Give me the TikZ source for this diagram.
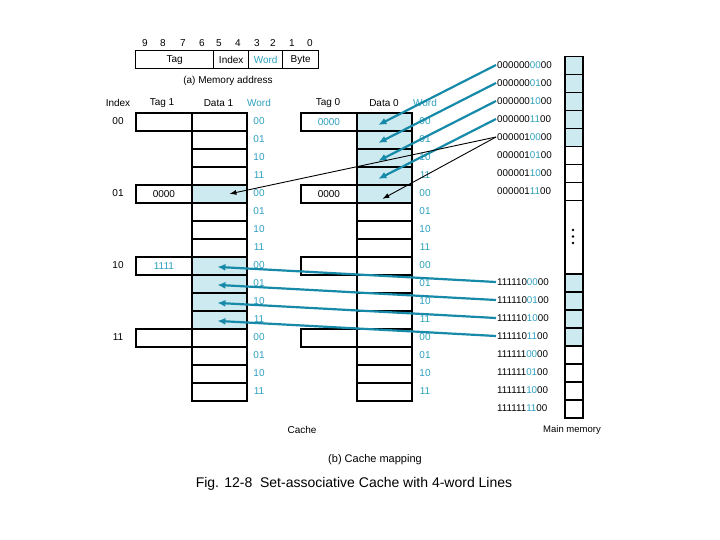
\documentclass[tikz,border=0pt]{standalone}
\usepackage{fontspec}
\setmainfont{Liberation Sans}
\usetikzlibrary{calc,arrows.meta}
\definecolor{tealtxt}{RGB}{45,160,190}
\definecolor{tealarr}{RGB}{22,138,168}
\definecolor{cellshade}{RGB}{205,234,240}
\newcommand{\addrtxt}[3]{#1\textcolor{tealtxt}{#2}#3}
\begin{document}
\begin{tikzpicture}[x=1pt,y=-1pt,font=\fontsize{10}{12}\selectfont,
  cell/.style={draw,line width=1.8pt,minimum width=55pt,minimum height=18pt,inner sep=0pt,anchor=north west},
  shcell/.style={cell,fill=cellshade},
  mcell/.style={draw,line width=1.5pt,minimum width=18pt,minimum height=18pt,inner sep=0pt,anchor=north west},
  abox/.style={draw,line width=1.4pt,minimum height=18pt,inner sep=0pt,anchor=north west},
  addr/.style={anchor=west,inner sep=1pt,font=\fontsize{9.8}{11}\selectfont},
  lbl/.style={inner sep=1pt},
  wl/.style={inner sep=1pt,text=tealtxt},
  tarrow/.style={draw=tealarr,line width=2.2pt,-{Latex[length=8pt,width=7pt]}},
  barrow/.style={draw=black,line width=0.9pt,-{Latex[length=7pt,width=5pt]}}]
\useasboundingbox (0,0) rectangle (720,540);

% (a) memory address
\foreach \b/\x in {9/145,8/163,7/183,6/202,5/219,4/238,3/257,2/273,1/292,0/310}
  \node[lbl] (bit\b) at (\x,43) {\b};
\node[abox,minimum width=78pt] (ftag) at (135,50) {Tag};
\node[abox,minimum width=35pt] (findex) at (213,50) {Index};
\node[abox,minimum width=34pt,text=tealtxt] (fword) at (248,50) {Word};
\node[abox,minimum width=36pt] (fbyte) at (282,50) {Byte};
\node[lbl] (capa) at (228,81) {(a) Memory address};

% headers
\node[lbl] (hindex) at (118,103) {Index};
\node[lbl] (htag1) at (162,103) {Tag 1};
\node[lbl] (hdata1) at (218.5,103) {Data 1};
\node[lbl,text=tealtxt] (hword1) at (259,103) {Word};
\node[lbl] (htag0) at (328,103) {Tag 0};
\node[lbl] (hdata0) at (384,103) {Data 0};
\node[lbl,text=tealtxt] (hword0) at (425,103) {Word};

% data cells
\foreach \k in {0,1,2,3,5,6,7,12,13,14,15}
  \node[cell] (da\k) at (191,{112+18*\k}) {};
\foreach \k in {4,8,9,10,11}
  \node[shcell] (da\k) at (191,{112+18*\k}) {};
\foreach \k in {5,...,15}
  \node[cell] (db\k) at (356,{112+18*\k}) {};
\foreach \k in {0,...,4}
  \node[shcell] (db\k) at (356,{112+18*\k}) {};

% tag cells
\node[cell,minimum width=56pt] (ta0) at (135,112) {};
\node[cell,minimum width=56pt] (ta1) at (135,184) {0000};
\node[cell,minimum width=56pt,text=tealtxt] (ta2) at (135,256) {1111};
\node[cell,minimum width=56pt] (ta3) at (135,328) {};
\node[cell,minimum width=56pt,text=tealtxt] (tb0) at (300,112) {0000};
\node[cell,minimum width=56pt] (tb1) at (300,184) {0000};
\node[cell,minimum width=56pt] (tb2) at (300,256) {};
\node[cell,minimum width=56pt] (tb3) at (300,328) {};

% index labels
\foreach \i/\s in {0/00,1/01,2/10,3/11}
  \node[lbl] (ix\i) at (118,{121+72*\i}) {\s};

% word labels
\foreach \i in {0,1,2,3}
  \foreach \j/\s in {0/00,1/01,2/10,3/11} {
    \node[wl] (wa\i\j) at (259,{121+72*\i+18*\j}) {\s};
    \node[wl] (wb\i\j) at (425,{121+72*\i+18*\j}) {\s};
  }

% main memory
\foreach \k in {0,...,4}
  \node[mcell,fill=cellshade] (mt\k) at (564,{56+18*\k}) {};
\foreach \k in {5,6,7}
  \node[mcell] (mt\k) at (564,{56+18*\k}) {};
\node[mcell,minimum height=73pt] (mgap) at (564,200) {};
\fill (573,230) circle (1.4pt) (573,236.5) circle (1.4pt) (573,243) circle (1.4pt);
\foreach \k in {0,...,3}
  \node[mcell,fill=cellshade] (mb\k) at (564,{273+18*\k}) {};
\foreach \k in {4,...,7}
  \node[mcell] (mb\k) at (564,{273+18*\k}) {};

\foreach \k/\p/\w in {0/000000/00,1/000000/01,2/000000/10,3/000000/11,4/000001/00,5/000001/01,6/000001/10,7/000001/11}
  \node[addr] (at\k) at (496,{65+18*\k}) {\addrtxt{\p}{\w}{00}};
\foreach \k/\p/\w in {0/111110/00,1/111110/01,2/111110/10,3/111110/11,4/111111/00,5/111111/01,6/111111/10,7/111111/11}
  \node[addr] (ab\k) at (496,{282+18*\k}) {\addrtxt{\p}{\w}{00}};

% captions
\node[lbl] (ccache) at (302,430) {Cache};
\node[lbl,font=\fontsize{9.5}{11}\selectfont] (cmain) at (572,430) {Main memory};
\node[lbl,font=\fontsize{11}{13}\selectfont] (capb) at (375,460) {(b) Cache mapping};
\node[lbl,font=\fontsize{14}{16}\selectfont] (fig) at (354,484) {Fig. 12-8\ \ Set-associative Cache with 4-word Lines};

% arrows
\foreach \k in {0,...,3}
  \draw[tarrow] (at\k.west) -- ($(db\k.center)+(-6,3)$);
\draw[barrow] (at4.west) -- ($(da4.center)+(10,0)$);
\draw[barrow] (at4.west) -- ($(db4.center)+(-2,5)$);
\foreach \k/\d in {0/8,1/9,2/10,3/11}
  \draw[tarrow] (ab\k.west) -- ($(da\d.center)+(-2,1)$);
\end{tikzpicture}
\end{document}
